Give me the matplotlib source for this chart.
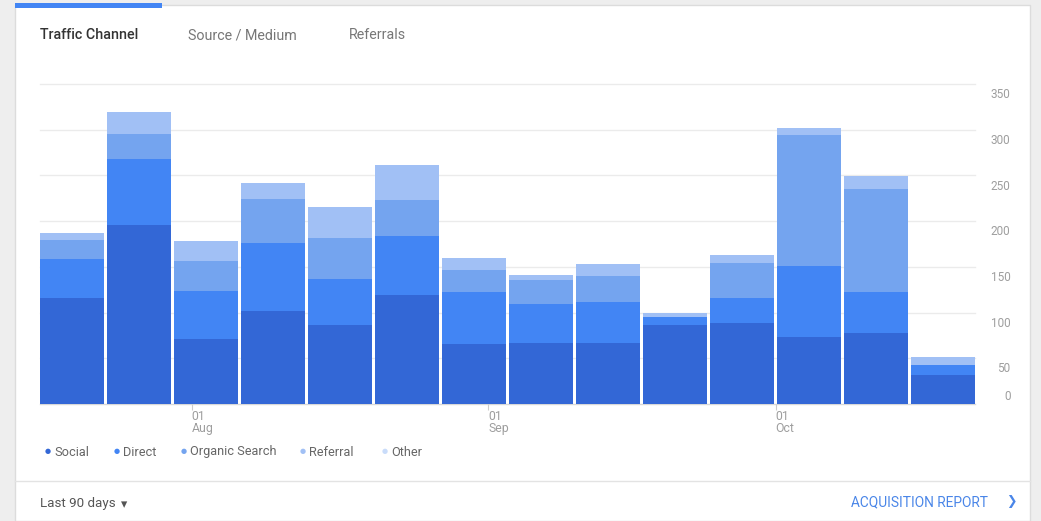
import numpy as np
import pandas as pd
import matplotlib
matplotlib.use("Agg")
import matplotlib.pyplot as plt
from matplotlib.patches import Rectangle
from matplotlib.lines import Line2D
import matplotlib.transforms as mtransforms

plt.rcParams['font.family'] = ['Roboto', 'DejaVu Sans']

# weekly traffic by channel
week_start = pd.date_range('2017-07-16', periods=14, freq='7D')
channels = ['Social', 'Direct', 'Organic Search', 'Referral', 'Other']
social = [116, 196, 71, 102, 86, 119, 66, 67, 67, 86, 89, 73, 78, 32]
direct = [43, 72, 53, 74, 51, 65, 56, 42, 45, 9, 27, 78, 44, 11]
organic = [20, 27, 32, 48, 45, 39, 25, 27, 28, 0, 38, 143, 113, 0]
referral = [8, 24, 22, 18, 34, 38, 13, 5, 13, 5, 9, 8, 14, 8]
other = [0, 0, 0, 0, 0, 0, 0, 0, 0, 0, 0, 0, 0, 0]
month_ticks = ['2017-08-01', '2017-09-01', '2017-10-01']
month_labels = ['01\nAug', '01\nSep', '01\nOct']
y_ticks = [0, 50, 100, 150, 200, 250, 300, 350]

colors = ['#3367d6', '#4285f4', '#74a4ef', '#a1c0f5', '#c9dcfa']

W, H = 1041, 521
fig = plt.figure(figsize=(W / 100, H / 100), dpi=100)
fig.patch.set_facecolor('#eeeeee')


def fx(x):
    return x / W


def fy(y):
    return 1 - y / H


# card background (behind the axes)
fig.add_artist(Rectangle((fx(15), 0), fx(1015), fy(5), transform=fig.transFigure,
                         facecolor='white', edgecolor='#dcdcdc', lw=1, zorder=-10))
# active tab indicator
fig.add_artist(Rectangle((fx(15), fy(8)), fx(147), 5 / H, transform=fig.transFigure,
                         facecolor='#4285f4', edgecolor='none', zorder=-5))
# bottom divider
fig.add_artist(Line2D([fx(15), fx(1030)], [fy(481), fy(481)], transform=fig.transFigure,
                      color='#e3e3e3', lw=1, zorder=-5))

# tabs
fig.text(fx(40), fy(35), 'Traffic Channel', fontsize=10.3, color='#333333',
         fontweight='medium', va='center')
fig.text(fx(188), fy(35), 'Source / Medium', fontsize=10.3, color='#777777', va='center')
fig.text(fx(349), fy(35), 'Referrals', fontsize=10.3, color='#777777', va='center')

# chart
bar_w = 64 / 67
ax = fig.add_axes([fx(40), fy(404), fx(975 - 40), (404 - 84) / H])
ax.patch.set_alpha(0)
x = np.arange(len(social))
series = [social, direct, organic, referral, other]
bottom = np.zeros(len(x))
for vals, c, name in zip(series, colors, channels):
    ax.bar(x, vals, width=bar_w, bottom=bottom, color=c, linewidth=0, label=name, zorder=2)
    bottom += np.array(vals)

ax.set_xlim(-bar_w / 2, len(x) - 1 + bar_w / 2)
ax.set_ylim(0, 350)
for s in ax.spines.values():
    s.set_visible(False)
ax.set_yticks([])
for v in y_ticks:
    ax.axhline(v, color='#ebebeb' if v else '#d8d8d8', lw=1, zorder=1, clip_on=False)
    off = mtransforms.offset_copy(ax.get_yaxis_transform(), fig=fig, x=0, y=(1 if v == 0 else -3),
                                  units='points')
    ax.text(1.038, v, str(v), transform=off, fontsize=8.5, color='#9e9e9e',
            ha='right', va=('bottom' if v == 0 else 'top'))

# month ticks
first = week_start[0]
tick_pos = [(pd.Timestamp(d) - first).days / 7 - 0.5 for d in month_ticks]
ax.set_xticks(tick_pos)
ax.set_xticklabels(month_labels, fontsize=8.8, color='#9e9e9e', ha='left', linespacing=0.95)
ax.tick_params(axis='x', length=4, color='#cccccc', pad=0)

# legend
leg_x = [45, 114, 181, 300, 382]
for lx, c, name in zip(leg_x, colors, channels):
    fig.text(fx(lx), fy(452), '\u25cf', fontsize=5, color=c, va='center')
    fig.text(fx(lx + 9), fy(452), name, fontsize=9.2, color='#666666', va='center')

# footer
fig.text(fx(40), fy(504), 'Last 90 days', fontsize=9.6, color='#555555', va='center')
fig.text(fx(121), fy(505), '\u25be', fontsize=9, color='#555555', va='center')
fig.text(fx(851), fy(502), 'ACQUISITION REPORT', fontsize=9.9, color='#4a86e8', va='center')
fig.text(fx(1006), fy(502), '\u276f', fontsize=9, color='#4a86e8', va='center',
         family=['DejaVu Sans'])

fig.savefig('out.png', dpi=100, facecolor=fig.get_facecolor())
